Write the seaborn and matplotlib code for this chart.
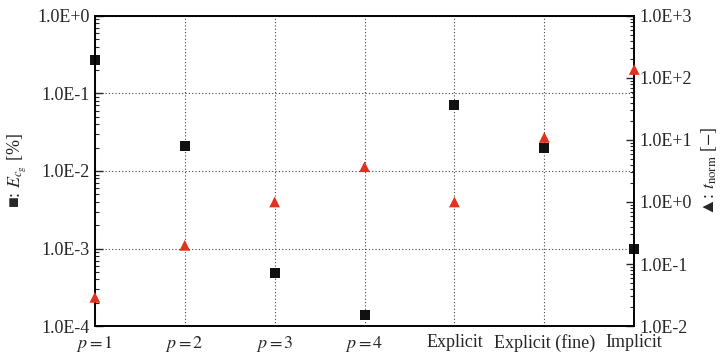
import matplotlib.pyplot as plt
import matplotlib.ticker as mticker
import numpy as np
import pandas as pd
import seaborn as sns

# data
cases = ["$p = 1$", "$p = 2$", "$p = 3$", "$p = 4$",
         "Explicit", "Explicit (fine)", "Implicit"]
err_cg = [0.27, 0.021, 4.8e-4, 1.4e-4, 0.072, 0.020, 1.0e-3]   # left axis [%]
t_norm = [0.029, 0.20, 1.0, 3.7, 1.0, 11.0, 137.0]             # right axis [-]

sns.set_style("white")
plt.rcParams['font.family'] = ['Liberation Serif', 'DejaVu Sans']
plt.rcParams['mathtext.fontset'] = 'stix'
plt.rcParams['xtick.direction'] = 'in'
plt.rcParams['ytick.direction'] = 'in'

df = pd.DataFrame({"case": cases, "err": err_cg, "t": t_norm, "pos": np.arange(len(cases))})

fig, ax = plt.subplots(figsize=(7.24, 3.54), dpi=100)
fig.subplots_adjust(left=0.131, right=0.876, top=0.955, bottom=0.079)
ax2 = ax.twinx()

sns.scatterplot(data=df, x="pos", y="err", marker="s", s=52, color="#111111",
                edgecolor="none", ax=ax, clip_on=False, zorder=5)
sns.scatterplot(data=df, x="pos", y="t", marker="^", s=60, color="#e3301f",
                edgecolor="none", ax=ax2, clip_on=False, zorder=5)

for a in (ax, ax2):
    a.set_yscale("log")
    a.set_xlim(0, len(cases) - 1)
    a.yaxis.set_major_formatter(mticker.FuncFormatter(
        lambda v, _: f"1.0E{int(round(np.log10(v))):+d}"))
    a.tick_params(axis="y", which="major", length=6, width=1, labelsize=13)
    a.tick_params(axis="y", which="minor", length=3, width=0.8)
    a.set_xlabel("")
    for s in a.spines.values():
        s.set_linewidth(1.2)
        s.set_color("black")

ax.set_ylim(1e-4, 1)
ax2.set_ylim(1e-2, 1e3)
ax.yaxis.set_major_locator(mticker.LogLocator(base=10, numticks=10))
ax2.yaxis.set_major_locator(mticker.LogLocator(base=10, numticks=10))

ax.set_xticks(df["pos"])
ax.set_xticklabels(cases)
ax.tick_params(axis="x", length=5, width=1, labelsize=13, pad=6)
ax2.tick_params(axis="x", length=0)

ax.grid(True, which="major", axis="both", linestyle=(0, (1, 2)),
        color="#444444", linewidth=0.8)
ax2.grid(False)
ax.set_axisbelow(True)

ax.set_ylabel("■: $E_{c_\\mathrm{g}}$ [%]", fontsize=13, labelpad=6)
ax2.set_ylabel("▲: $t_\\mathrm{norm}$ [$-$]", fontsize=13, rotation=90, labelpad=5)

fig.savefig("out.png", dpi=100)
